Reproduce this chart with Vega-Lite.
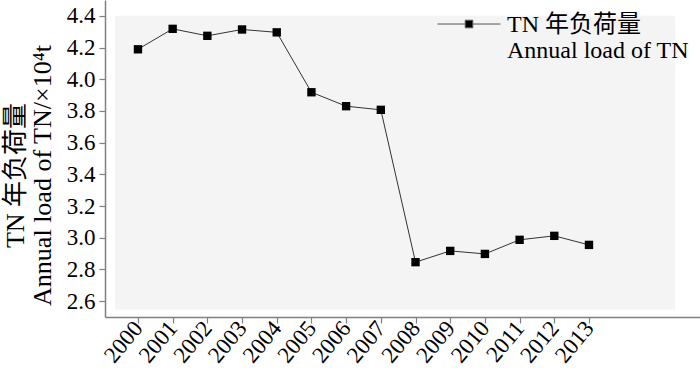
{
  "$schema": "https://vega.github.io/schema/vega-lite/v6.json",
  "width": 595,
  "height": 317,
  "autosize": {"type": "none"},
  "padding": {"left": 105, "top": 0, "right": 0, "bottom": 56},
  "background": "white",
  "config": {
    "view": {"stroke": null},
    "font": "Liberation Serif, Noto Sans CJK SC",
    "axis": {"domainColor": "#808080", "domainWidth": 1.5, "tickColor": "#808080", "tickWidth": 1.2, "tickSize": 6, "labelColor": "black", "labelFont": "Liberation Serif", "labelFontSize": 23, "labelOverlap": false, "grid": false, "titleFont": "Liberation Serif, Noto Sans CJK SC", "titleFontWeight": "normal", "titleColor": "black"},
    "axisY": {"labelOverlap": false},
    "axisQuantitative": {"labelOverlap": false}
  },
  "datasets": {
    "bg": [{"x0": 1999.34, "x1": 2015.48, "y0": 2.548, "y1": 4.4}],
    "tn": [
      {"year": 2000, "load": 4.189, "series": "TN"},
      {"year": 2001, "load": 4.318, "series": "TN"},
      {"year": 2002, "load": 4.274, "series": "TN"},
      {"year": 2003, "load": 4.314, "series": "TN"},
      {"year": 2004, "load": 4.296, "series": "TN"},
      {"year": 2005, "load": 3.918, "series": "TN"},
      {"year": 2006, "load": 3.830, "series": "TN"},
      {"year": 2007, "load": 3.807, "series": "TN"},
      {"year": 2008, "load": 2.846, "series": "TN"},
      {"year": 2009, "load": 2.917, "series": "TN"},
      {"year": 2010, "load": 2.898, "series": "TN"},
      {"year": 2011, "load": 2.987, "series": "TN"},
      {"year": 2012, "load": 3.012, "series": "TN"},
      {"year": 2013, "load": 2.955, "series": "TN"}
    ]
  },
  "layer": [
    {
      "data": {"name": "bg"},
      "mark": {"type": "rect", "fill": "#f4f4f4"},
      "encoding": {
        "x": {"field": "x0", "type": "quantitative", "scale": {"domain": [1999.05, 2016.2], "nice": false, "zero": false},
          "axis": {"title": null, "labelOverlap": false, "values": [2000, 2001, 2002, 2003, 2004, 2005, 2006, 2007, 2008, 2009, 2010, 2011, 2012, 2013], "format": "d", "labelAngle": -50, "labelAlign": "right", "labelBaseline": "middle", "labelPadding": 1}},
        "x2": {"field": "x1"},
        "y": {"field": "y0", "type": "quantitative", "scale": {"domain": [2.5, 4.5], "nice": false, "zero": false},
          "axis": {"title": ["TN 年负荷量", "Annual load of TN/×10⁴t"], "labelOverlap": false, "labelSeparation": 0, "labelBaseline": "middle", "titleFontSize": 26, "titleLineHeight": 27, "titleX": -77, "titleY": 175, "titleAngle": -90, "titleBaseline": "bottom", "titleAlign": "center", "values": [2.6, 2.8, 3.0, 3.2, 3.4, 3.6, 3.8, 4.0, 4.2, 4.4], "format": ".1f", "labelPadding": 4}},
        "y2": {"field": "y1"}
      }
    },
    {
      "data": {"name": "tn"},
      "mark": {"type": "line", "color": "#333333", "strokeWidth": 1},
      "encoding": {
        "x": {"field": "year", "type": "quantitative",
          "axis": {"title": null, "labelOverlap": false, "values": [2000, 2001, 2002, 2003, 2004, 2005, 2006, 2007, 2008, 2009, 2010, 2011, 2012, 2013], "format": "d", "labelAngle": -50, "labelAlign": "right", "labelBaseline": "middle", "labelPadding": 1}},
        "y": {"field": "load", "type": "quantitative",
          "axis": {"title": ["TN 年负荷量", "Annual load of TN/×10⁴t"], "labelOverlap": false, "labelSeparation": 0, "labelBaseline": "middle", "titleFontSize": 26, "titleLineHeight": 27, "titleX": -77, "titleY": 175, "titleAngle": -90, "titleBaseline": "bottom", "titleAlign": "center", "values": [2.6, 2.8, 3.0, 3.2, 3.4, 3.6, 3.8, 4.0, 4.2, 4.4], "format": ".1f", "labelPadding": 4}}
      }
    },
    {
      "data": {"name": "tn"},
      "mark": {"type": "point", "shape": "square", "filled": true, "size": 70, "opacity": 1},
      "encoding": {
        "x": {"field": "year", "type": "quantitative",
          "axis": {"title": null, "labelOverlap": false, "values": [2000, 2001, 2002, 2003, 2004, 2005, 2006, 2007, 2008, 2009, 2010, 2011, 2012, 2013], "format": "d", "labelAngle": -50, "labelAlign": "right", "labelBaseline": "middle", "labelPadding": 1}},
        "y": {"field": "load", "type": "quantitative",
          "axis": {"title": ["TN 年负荷量", "Annual load of TN/×10⁴t"], "labelOverlap": false, "labelSeparation": 0, "labelBaseline": "middle", "titleFontSize": 26, "titleLineHeight": 27, "titleX": -77, "titleY": 175, "titleAngle": -90, "titleBaseline": "bottom", "titleAlign": "center", "values": [2.6, 2.8, 3.0, 3.2, 3.4, 3.6, 3.8, 4.0, 4.2, 4.4], "format": ".1f", "labelPadding": 4}},
        "color": {
          "field": "series", "type": "nominal",
          "scale": {"range": ["black"]},
          "legend": {
            "title": null,
            "orient": "none",
            "legendX": 332,
            "legendY": -19,
            "padding": 0,
            "symbolType": "M-1,0.35H-0.12M0.12,0.35H1M-0.12,0.23H0.12V0.47H-0.12Z",
            "symbolSize": 3969,
            "symbolFillColor": "black",
            "symbolStrokeColor": "#555555",
            "symbolStrokeWidth": 1,
            "labelExpr": "['TN 年负荷量', 'Annual load of TN']",
            "labelFont": "Liberation Serif, Noto Sans CJK SC",
            "labelFontSize": 24,
            "labelLineHeight": 26,
            "labelBaseline": "top",
            "labelOffset": 6,
            "labelColor": "black",
            "labelLimit": 400
          }
        }
      }
    }
  ]
}
